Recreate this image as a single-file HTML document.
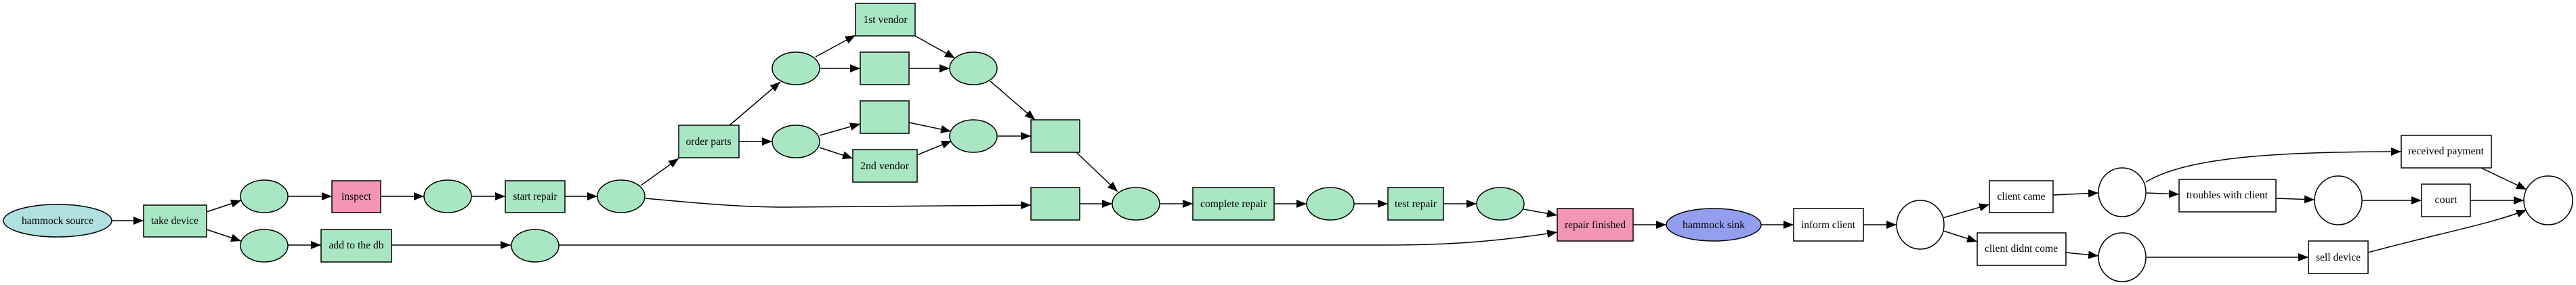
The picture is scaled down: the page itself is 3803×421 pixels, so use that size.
<!DOCTYPE html>
<html><head><meta charset="utf-8"><style>html,body{margin:0;padding:0;background:#fff;}svg{display:block}</style></head>
<body>
<svg width="3803" height="421" viewBox="0 0 3803 421" xmlns="http://www.w3.org/2000/svg">
<defs>
<marker id="a" markerUnits="userSpaceOnUse" markerWidth="16" markerHeight="14" refX="15" refY="6" orient="auto">
<path d="M0,0 L15,6 L0,12 Z" fill="#000"/></marker>
</defs>
<g fill="none" stroke="#000" stroke-width="1.5" marker-end="url(#a)">
<path d="M165,326 L212,326"/>
<path d="M305,313 L356,296"/>
<path d="M305,339 L356,356"/>
<path d="M425,290 L490,290"/>
<path d="M562,290 L626,290"/>
<path d="M697,290 L746,290"/>
<path d="M834,290 L882,290"/>
<path d="M425,362 L474,362"/>
<path d="M578,362 L754,362"/>
<path d="M825,362 L2050,362 C2150,362 2220,355 2299,343"/>
<path d="M946,274 L1002,234"/>
<path d="M953,293 C1050,302 1100,306 1160,306 L1522,303"/>
<path d="M1077,185 L1152,121"/>
<path d="M1091,209 L1140,209"/>
<path d="M1204,84 L1263,52"/>
<path d="M1210,101 L1270,101"/>
<path d="M1342,101 L1402,101"/>
<path d="M1351,53 L1410,86"/>
<path d="M1210,200 L1270,183"/>
<path d="M1210,218 L1259,234"/>
<path d="M1342,181 L1404,194"/>
<path d="M1354,229 L1405,208"/>
<path d="M1462,120 L1528,177"/>
<path d="M1473,201 L1522,201"/>
<path d="M1589,225 L1650,283"/>
<path d="M1594,301 L1642,301"/>
<path d="M1713,301 L1761,301"/>
<path d="M1881,301 L1929,301"/>
<path d="M1999,301 L2049,301"/>
<path d="M2131,301 L2180,301"/>
<path d="M2249,309 L2299,318"/>
<path d="M2411,332 L2460,332"/>
<path d="M2600,332 L2648,332"/>
<path d="M2751,332 L2800,332"/>
<path d="M2868,322 L2937,302"/>
<path d="M2869,341 L2919,357"/>
<path d="M3031,288 L3098,285"/>
<path d="M3050,373 L3098,378"/>
<path d="M3168,269 C3230,230 3380,224 3545,224"/>
<path d="M3169,285 L3217,287"/>
<path d="M3360,293 L3417,295"/>
<path d="M3488,296 L3575,296"/>
<path d="M3647,296 L3726,296"/>
<path d="M3663,248 L3730,280"/>
<path d="M3169,380 L3408,380"/>
<path d="M3496,373 C3600,345 3680,330 3730,310"/>
</g>
<g stroke="#000" stroke-width="1.5">
<ellipse cx="85" cy="326" rx="80" ry="24" fill="#b0e0df"/>
<rect x="212" y="303" width="93" height="47" fill="#a9e6c4"/>
<ellipse cx="390" cy="290" rx="35" ry="24" fill="#a9e6c4"/>
<rect x="490" y="267" width="72" height="47" fill="#f495b5"/>
<ellipse cx="661" cy="290" rx="35" ry="24" fill="#a9e6c4"/>
<rect x="746" y="267" width="88" height="47" fill="#a9e6c4"/>
<ellipse cx="917" cy="290" rx="35" ry="24" fill="#a9e6c4"/>
<ellipse cx="390" cy="363" rx="35" ry="24" fill="#a9e6c4"/>
<rect x="474" y="339" width="104" height="48" fill="#a9e6c4"/>
<ellipse cx="790" cy="363" rx="35" ry="24" fill="#a9e6c4"/>
<rect x="1002" y="185" width="89" height="48" fill="#a9e6c4"/>
<ellipse cx="1175" cy="101" rx="35" ry="24" fill="#a9e6c4"/>
<ellipse cx="1175" cy="209" rx="35" ry="24" fill="#a9e6c4"/>
<rect x="1263" y="5" width="88" height="48" fill="#a9e6c4"/>
<rect x="1270" y="77" width="72" height="48" fill="#a9e6c4"/>
<rect x="1270" y="149" width="72" height="48" fill="#a9e6c4"/>
<rect x="1259" y="221" width="95" height="48" fill="#a9e6c4"/>
<ellipse cx="1437" cy="101" rx="35" ry="24" fill="#a9e6c4"/>
<ellipse cx="1437" cy="201" rx="35" ry="24" fill="#a9e6c4"/>
<rect x="1522" y="177" width="72" height="48" fill="#a9e6c4"/>
<rect x="1522" y="277" width="72" height="48" fill="#a9e6c4"/>
<ellipse cx="1677" cy="301" rx="35" ry="24" fill="#a9e6c4"/>
<rect x="1761" y="277" width="120" height="48" fill="#a9e6c4"/>
<ellipse cx="1964" cy="301" rx="35" ry="24" fill="#a9e6c4"/>
<rect x="2049" y="277" width="82" height="48" fill="#a9e6c4"/>
<ellipse cx="2215" cy="301" rx="35" ry="24" fill="#a9e6c4"/>
<rect x="2299" y="308" width="112" height="48" fill="#f495b5"/>
<ellipse cx="2530" cy="332" rx="70" ry="24" fill="#939eee"/>
<rect x="2648" y="308" width="103" height="48" fill="#fff"/>
<ellipse cx="2835" cy="332" rx="35" ry="36" fill="#fff"/>
<rect x="2937" y="267" width="94" height="47" fill="#fff"/>
<rect x="2919" y="344" width="131" height="48" fill="#fff"/>
<ellipse cx="3133" cy="284" rx="35" ry="36" fill="#fff"/>
<ellipse cx="3133" cy="380" rx="35" ry="36" fill="#fff"/>
<rect x="3545" y="200" width="133" height="48" fill="#fff"/>
<rect x="3217" y="265" width="143" height="48" fill="#fff"/>
<ellipse cx="3452" cy="296" rx="35" ry="36" fill="#fff"/>
<rect x="3575" y="272" width="72" height="48" fill="#fff"/>
<rect x="3408" y="356" width="88" height="48" fill="#fff"/>
<ellipse cx="3762" cy="296" rx="36" ry="36" fill="#fff"/>
</g>
<g font-family="Liberation Serif, serif" font-size="16" fill="#000" text-anchor="middle" lengthAdjust="spacingAndGlyphs">
<text x="85" y="331" textLength="106" lengthAdjust="spacingAndGlyphs">hammock source</text>
<text x="258" y="331" textLength="70" lengthAdjust="spacingAndGlyphs">take device</text>
<text x="526" y="295" textLength="44" lengthAdjust="spacingAndGlyphs">inspect</text>
<text x="790" y="295" textLength="65" lengthAdjust="spacingAndGlyphs">start repair</text>
<text x="526" y="367" textLength="81" lengthAdjust="spacingAndGlyphs">add to the db</text>
<text x="1046" y="214" textLength="67" lengthAdjust="spacingAndGlyphs">order parts</text>
<text x="1307" y="34" textLength="65" lengthAdjust="spacingAndGlyphs">1st vendor</text>
<text x="1306" y="250" textLength="72" lengthAdjust="spacingAndGlyphs">2nd vendor</text>
<text x="1821" y="306" textLength="98" lengthAdjust="spacingAndGlyphs">complete repair</text>
<text x="2090" y="306" textLength="62" lengthAdjust="spacingAndGlyphs">test repair</text>
<text x="2355" y="337" textLength="90" lengthAdjust="spacingAndGlyphs">repair finished</text>
<text x="2530" y="337" textLength="92" lengthAdjust="spacingAndGlyphs">hammock sink</text>
<text x="2699" y="337" textLength="80" lengthAdjust="spacingAndGlyphs">inform client</text>
<text x="2984" y="295" textLength="71" lengthAdjust="spacingAndGlyphs">client came</text>
<text x="2984" y="372" textLength="108" lengthAdjust="spacingAndGlyphs">client didnt come</text>
<text x="3611" y="228" textLength="112" lengthAdjust="spacingAndGlyphs">received payment</text>
<text x="3288" y="293" textLength="120" lengthAdjust="spacingAndGlyphs">troubles with client</text>
<text x="3611" y="300" textLength="33" lengthAdjust="spacingAndGlyphs">court</text>
<text x="3452" y="385" textLength="66" lengthAdjust="spacingAndGlyphs">sell device</text>
</g>
</svg>
</body></html>
